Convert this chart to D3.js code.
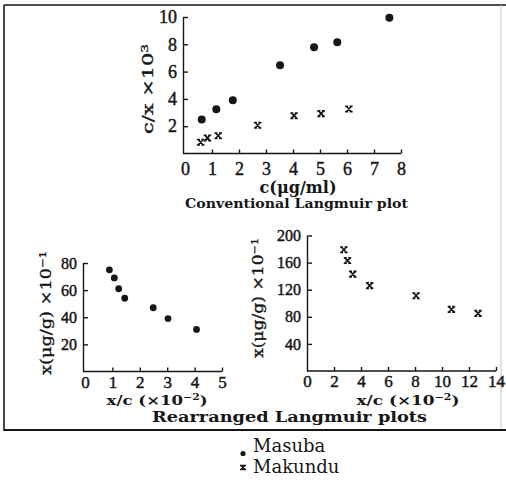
<!DOCTYPE html>
<html><head><meta charset="utf-8">
<script src="https://cdn.jsdelivr.net/npm/d3@7"></script>
<style>body{margin:0;background:#fff}svg{display:block}</style>
</head><body><svg id="c" width="506" height="480"></svg>
<script>
// ---- data ----
const topXTicks = [0,1,2,3,4,5,6,7,8];
const topYTicks = [2,4,6,8,10];
const masubaC  = [0.62,1.16,1.77,3.52,4.78,5.64,7.57];
const masubaCX = [2.5,3.24,3.9,6.46,7.78,8.15,9.95];
const makunduC  = [0.58,0.83,1.23,2.69,4.04,5.04,6.07];
const makunduCX = [0.82,1.14,1.30,2.07,2.77,2.92,3.26];
const leftXTicks = [0,1,2,3,4,5];
const leftYTicks = [20,40,60,80];
const masubaXC = [0.89,1.07,1.23,1.45,2.49,3.03,4.07];
const masubaX  = [75,69,61,54,47,39,31];
const rightXTicks = [0,2,4,6,8,10,12,14];
const rightYTicks = [40,80,120,160,200];
const makunduXC = [2.73,3.0,3.39,4.64,8.08,10.7,12.67];
const makunduX  = [179,163,143,126,111,91,85];
const seriesNames = ["Masuba","Makundu"];

const svg = d3.select("#c");
const ink = "#161616";
const numFont = "'Liberation Serif', serif";
const txtFont = "'DejaVu Serif', serif";

// frame
svg.append("line").attr("x1",4).attr("x2",506).attr("y1",5).attr("y2",5).attr("stroke",ink).attr("stroke-width",1.6);
svg.append("line").attr("x1",4).attr("x2",4).attr("y1",5).attr("y2",431).attr("stroke",ink).attr("stroke-width",1.6);
svg.append("line").attr("x1",501).attr("x2",501).attr("y1",5).attr("y2",430).attr("stroke","#bbb").attr("stroke-width",0.8);
svg.append("line").attr("x1",4).attr("x2",506).attr("y1",430).attr("y2",430).attr("stroke",ink).attr("stroke-width",2.2);

// marker for Makundu: serifed x
function xMark(g, s){
  const h = s/2;
  const p = `M${-h},${-h}L${h},${h}M${h},${-h}L${-h},${h}M${-h-1},${-h}H${-h+2}M${h-2},${-h}H${h+1}M${-h-1},${h}H${-h+2}M${h-2},${h}H${h+1}`;
  g.append("path").attr("d",p).attr("stroke",ink).attr("stroke-width",1.6).attr("fill","none");
}

function panel(cfg){
  const x = d3.scaleLinear().domain(cfg.xd).range(cfg.xr);
  const y = d3.scaleLinear().domain(cfg.yd).range(cfg.yr);
  const gx = svg.append("g").attr("transform",`translate(0,${cfg.yr[0]})`)
    .call(d3.axisBottom(x).tickValues(cfg.xt).tickSizeInner(-4).tickSizeOuter(0).tickPadding(cfg.xpad).tickFormat(d3.format("d")));
  gx.select(".domain").attr("d",`M${cfg.axX},0H${cfg.xr[1]}`);
  const gy = svg.append("g").attr("transform",`translate(${cfg.axX},0)`)
    .call(d3.axisLeft(y).tickValues(cfg.yt).tickSizeInner(-5).tickSizeOuter(0).tickPadding(6).tickFormat(d3.format("d")));
  [gx,gy].forEach(g=>{
    g.selectAll("path,line").attr("stroke",ink).attr("stroke-width",1.4);
    g.selectAll("text").attr("fill",ink).attr("font-family",numFont)
      .attr("stroke",ink).attr("stroke-width",0.45);
  });
  gx.selectAll("text").attr("font-size",cfg.xfs);
  gy.selectAll("text").attr("font-size",cfg.yfs);
  gx.selectAll(".tick").filter(d=>d===0).select("line").remove();
  return {x,y};
}

// top panel
const T = panel({xd:[0,8],xr:[185,401],yd:[0,10],yr:[153.5,17],xt:topXTicks,yt:topYTicks,axX:183,xpad:9,xfs:18,yfs:18});
svg.append("g").selectAll("circle").data(masubaC).join("circle")
  .attr("cx",d=>T.x(d)).attr("cy",(d,i)=>T.y(masubaCX[i])).attr("r",4).attr("fill",ink);
makunduC.forEach((d,i)=>{ const g=svg.append("g").attr("transform",`translate(${T.x(d)},${T.y(makunduCX[i])})`); xMark(g,5.5); });

// bottom-left panel
const L = panel({xd:[0,5],xr:[85,222],yd:[0,80],yr:[371.5,263],xt:leftXTicks,yt:leftYTicks,axX:83,xpad:4,xfs:17,yfs:16});
svg.append("g").selectAll("circle").data(masubaXC).join("circle")
  .attr("cx",d=>L.x(d)).attr("cy",(d,i)=>L.y(masubaX[i])).attr("r",3.4).attr("fill",ink);

// bottom-right panel
const R = panel({xd:[0,14],xr:[307,496],yd:[0,200],yr:[371,235.5],xt:rightXTicks,yt:rightYTicks,axX:307,xpad:4,xfs:17,yfs:16});
makunduXC.forEach((d,i)=>{ const g=svg.append("g").attr("transform",`translate(${R.x(d)},${R.y(makunduX[i])})`); xMark(g,5.5); });

// text helpers
function label(x,y,parts,fs,len,rot,weight){
  const t = svg.append("text").attr("font-family",txtFont).attr("font-size",fs).attr("fill",ink)
    .attr("font-weight",weight||"bold").attr("text-anchor","middle");
  if(rot){ t.attr("transform",`translate(${x},${y}) rotate(-90)`); } else { t.attr("x",x).attr("y",y); }
  parts.forEach(p=>{
    const s=t.append("tspan").text(p.t);
    if(p.sup){ s.attr("font-size",fs*0.65).attr("baseline-shift","super"); }
  });
  if(len) t.attr("textLength",len).attr("lengthAdjust","spacingAndGlyphs");
  return t;
}

label(298,193,[{t:"c(μg/ml)"}],16,77);
label(296.5,208,[{t:"Conventional Langmuir plot"}],13,223);
label(153,89,[{t:"c/x ×10"},{t:"3",sup:1}],15,90,true,"normal").attr("stroke",ink).attr("stroke-width",0.35);
label(157,405,[{t:"x/c (×10"},{t:"−2",sup:1},{t:")"}],13,101);
label(408,405,[{t:"x/c (×10"},{t:"−2",sup:1},{t:")"}],13,103);
label(289.5,422,[{t:"Rearranged Langmuir plots"}],15,275);
label(51,313,[{t:"x(μg/g) ×10"},{t:"−1",sup:1}],15,124,true,"normal").attr("stroke",ink).attr("stroke-width",0.35);
label(263,298,[{t:"x(μg/g) ×10"},{t:"−1",sup:1}],15,120,true,"normal").attr("stroke",ink).attr("stroke-width",0.35);

// legend
const lg = svg.append("g");
lg.append("circle").attr("cx",243).attr("cy",453.5).attr("r",2.6).attr("fill",ink);
xMark(lg.append("g").attr("transform","translate(243,467.5)"),4);
lg.selectAll("text.leg").data(seriesNames).join("text").attr("class","leg")
  .attr("x",253).attr("y",(d,i)=>452+i*21).attr("font-family",txtFont).attr("font-size",18).attr("fill",ink).text(d=>d);
</script></body></html>
